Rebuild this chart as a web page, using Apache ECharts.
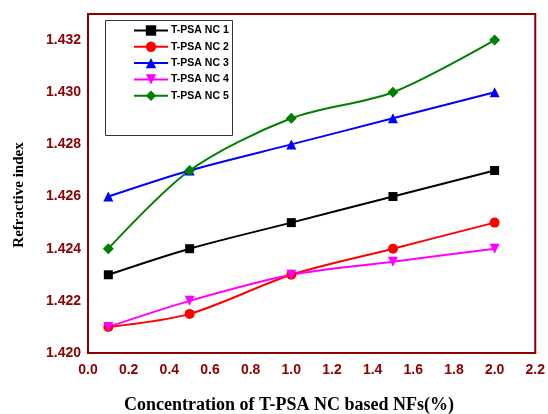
<!DOCTYPE html>
<html><head><meta charset="utf-8">
<script src="https://cdn.jsdelivr.net/npm/echarts@6/dist/echarts.min.js"></script>
<style>html,body{margin:0;padding:0;background:#fff}#c{width:548px;height:414px}</style>
</head><body><div id="c"></div>
<script>
const xValues = [0.1, 0.5, 1.0, 1.5, 2.0];
const seriesNames = ['T-PSA NC 1', 'T-PSA NC 2', 'T-PSA NC 3', 'T-PSA NC 4', 'T-PSA NC 5'];
const nc1 = [1.423, 1.424, 1.425, 1.426, 1.427];
const nc2 = [1.421, 1.4215, 1.423, 1.424, 1.425];
const nc3 = [1.426, 1.427, 1.428, 1.429, 1.430];
const nc4 = [1.421, 1.422, 1.423, 1.4235, 1.424];
const nc5 = [1.424, 1.427, 1.429, 1.430, 1.432];
const xTicks = ['0.0','0.2','0.4','0.6','0.8','1.0','1.2','1.4','1.6','1.8','2.0','2.2'];
const yTicks = ['1.420','1.422','1.424','1.426','1.428','1.430','1.432'];
const xTitle = 'Concentration of T-PSA NC based NFs(%)';
const yTitle = 'Refractive index';

const allData = [nc1, nc2, nc3, nc4, nc5];
const colors = ['#000000', '#ff0000', '#0000ff', '#ff00ff', '#008000'];
const symbols = ['rect', 'circle', 'triangle', 'triangle', 'diamond'];
const rotates = [0, 0, 0, 180, 0];
const sizes = [9, 10, 10, 10, 11];
const axisColor = '#8b0000';
const titleFont = { fontFamily: 'Times New Roman, Liberation Serif', fontWeight: 'bold', fill: '#000' };

const chart = echarts.init(document.getElementById('c'));
chart.setOption({
  animation: false,
  backgroundColor: '#fff',
  grid: { left: 88, right: 11, top: 14, bottom: 61, show: true, borderColor: axisColor, borderWidth: 2 },
  graphic: [
    { type: 'rect', left: 103, top: 18, shape: { width: 127, height: 115 },
      style: { fill: 'none', stroke: '#333', lineWidth: 1 }, z: 5 },
    { type: 'text', x: 289, y: 405, z: 5,
      style: Object.assign({ text: xTitle, fontSize: 18, align: 'center', verticalAlign: 'middle' }, titleFont) },
    { type: 'text', x: 19, y: 195, rotation: Math.PI / 2, z: 5,
      style: Object.assign({ text: yTitle, fontSize: 15, align: 'center', verticalAlign: 'middle' }, titleFont) }
  ],
  legend: {
    orient: 'vertical', left: 128, top: 20, itemWidth: 34, itemHeight: 13, itemGap: 5.3,
    textStyle: { fontFamily: 'Arial, Liberation Sans', fontWeight: 'bold', fontSize: 10.5, color: '#000', padding: [0,0,0,-2] },
    data: seriesNames
  },
  xAxis: {
    type: 'value', min: 0, max: 2.2, interval: 0.2,
    axisLine: { show: true, lineStyle: { color: axisColor, width: 2 } },
    axisTick: { show: false }, splitLine: { show: false },
    axisLabel: { color: axisColor, fontFamily: 'Arial, Liberation Sans', fontWeight: 'bold', fontSize: 14, margin: 10,
      formatter: v => { const i = Math.round(v / 0.2); return xTicks[i] !== undefined ? xTicks[i] : ''; } }
  },
  yAxis: {
    type: 'value', min: 1.420, max: 1.433, interval: 0.002,
    axisLine: { show: true, lineStyle: { color: axisColor, width: 2 } },
    axisTick: { show: false }, splitLine: { show: false },
    axisLabel: { color: axisColor, fontFamily: 'Arial, Liberation Sans', fontWeight: 'bold', fontSize: 14, margin: 7,
      showMaxLabel: false,
      formatter: v => { const k = Math.round((v - 1.420) / 0.002 * 1000) / 1000; if (Math.abs(k - Math.round(k)) > 0.01) return ''; return yTicks[Math.round(k)] || ''; } }
  },
  series: allData.map((d, i) => ({
    name: seriesNames[i], type: 'line', smooth: 0.3,
    data: xValues.map((x, j) => [x, d[j]]),
    symbol: symbols[i], symbolRotate: rotates[i], symbolSize: sizes[i],
    lineStyle: { color: colors[i], width: 2 },
    itemStyle: { color: colors[i] }
  }))
});
</script></body></html>
